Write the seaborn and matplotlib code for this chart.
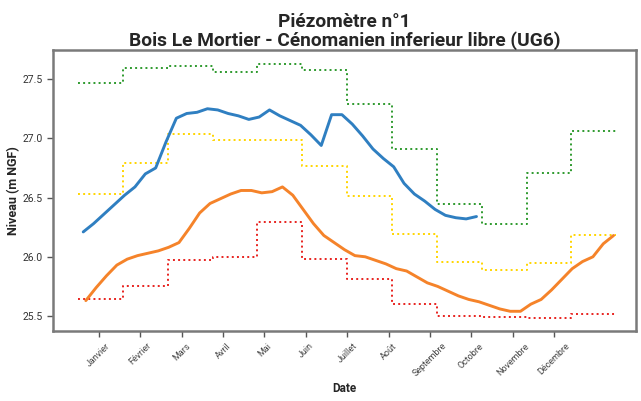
import numpy as np
import pandas as pd
import matplotlib
matplotlib.use("Agg")
import matplotlib.pyplot as plt
import seaborn as sns

# ---------------- data ----------------
months = ["Janvier", "Février", "Mars", "Avril", "Mai", "Juin", "Juillet",
          "Août", "Septembre", "Octobre", "Novembre", "Décembre"]

# weekly levels, current year (blue) and previous year (orange)
blue_values = [26.21, 26.28, 26.36, 26.44, 26.52, 26.59, 26.70, 26.75, 26.97, 27.17,
               27.21, 27.22, 27.25, 27.24, 27.21, 27.19, 27.16, 27.18, 27.24, 27.19,
               27.15, 27.11, 27.03, 26.94, 27.20, 27.20, 27.12, 27.02, 26.91, 26.83,
               26.76, 26.62, 26.53, 26.47, 26.40, 26.35, 26.33, 26.32, 26.34]
orange_values = [25.63, 25.74, 25.84, 25.93, 25.98, 26.01, 26.03, 26.05, 26.08, 26.12,
                 26.24, 26.37, 26.45, 26.49, 26.53, 26.56, 26.56, 26.54, 26.55, 26.59,
                 26.52, 26.40, 26.28, 26.18, 26.12, 26.06, 26.01, 26.00, 25.97, 25.94,
                 25.90, 25.88, 25.83, 25.78, 25.75, 25.71, 25.67, 25.64, 25.62, 25.59,
                 25.56, 25.54, 25.54, 25.60, 25.64, 25.72, 25.81, 25.90, 25.96, 26.00,
                 26.11, 26.18]

# monthly reference levels (step lines)
green_max = [27.47, 27.59, 27.61, 27.56, 27.63, 27.58, 27.29, 26.91, 26.45, 26.28, 26.71, 27.06]
yellow_mid = [26.53, 26.79, 27.04, 26.99, 26.99, 26.77, 26.51, 26.19, 25.96, 25.89, 25.95, 26.18]
red_min = [25.64, 25.75, 25.97, 26.00, 26.29, 25.98, 25.81, 25.60, 25.50, 25.49, 25.48, 25.52]

# x positions in weeks
blue_weeks = np.arange(len(blue_values)) + 0.5
orange_weeks = np.arange(len(orange_values)) + 0.75
month_edges = np.arange(13) * 52 / 12
tick_weeks = np.arange(12) * 4 + 2

# ---------------- plot ----------------
sns.set_style("white")
plt.rcParams["font.family"] = ["Roboto", "DejaVu Sans"]

fig = plt.figure(figsize=(6.41, 4.01), dpi=100)
ax = fig.add_axes([0.083, 0.175, 0.909, 0.700])

def step_df(vals):
    return pd.DataFrame({"w": month_edges, "v": list(vals) + [vals[-1]]})

for vals, col in [(green_max, "#2e9a2e"), (yellow_mid, "#ffd500"), (red_min, "#e8231f")]:
    d = step_df(vals)
    sns.lineplot(data=d, x="w", y="v", ax=ax, color=col, linestyle=":",
                 linewidth=1.4, drawstyle="steps-post", estimator=None)

sns.lineplot(x=blue_weeks, y=blue_values, ax=ax, color="#2f7fc1", linewidth=2.1,
             estimator=None)
sns.lineplot(x=orange_weeks, y=orange_values, ax=ax, color="#f5832a", linewidth=2.1,
             estimator=None)

ax.set_xlim(-2.4, 53.9)
ax.set_ylim(25.375, 27.745)
ax.set_yticks([25.5, 26.0, 26.5, 27.0, 27.5])
ax.set_yticklabels(["25.5", "26.0", "26.5", "27.0", "27.5"], fontsize=7.5, color="#333333")
ax.set_xticks(tick_weeks)
ax.set_xticklabels(months, rotation=45, fontsize=6.5, color="#444444",
                   ha="center", va="top", rotation_mode="default")
ax.tick_params(axis="both", which="both", direction="out", length=4, width=1,
               color="#555555", bottom=True, left=True)
for s in ax.spines.values():
    s.set_color("#7a7a7a")
    s.set_linewidth(1.8)

ax.set_xlabel("Date", fontsize=8.5, fontweight="bold", labelpad=3)
ax.set_ylabel("Niveau (m NGF)", fontsize=9, fontweight="bold", labelpad=2)
ax.set_title("Piézomètre n°1\nBois Le Mortier - Cénomanien inferieur libre (UG6)",
             fontsize=13.8, fontweight="bold", pad=3, linespacing=1.05)

fig.savefig("out.png", dpi=100, facecolor="white")
